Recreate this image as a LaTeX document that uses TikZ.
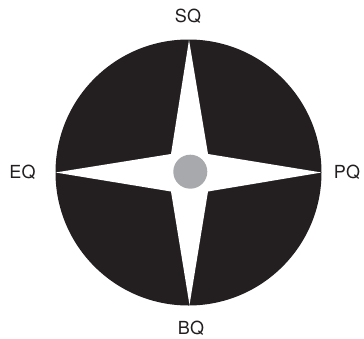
\documentclass[tikz,border=0pt]{standalone}
\usepackage{fontspec}
\setmainfont{TeX Gyre Heros}
\definecolor{dial}{HTML}{231F20}
\definecolor{hub}{HTML}{A7A9AC}
\begin{document}
\begin{tikzpicture}[x=0.75pt,y=-0.75pt,
  lbl/.style={font=\fontsize{13.5}{15}\selectfont, text=dial, inner sep=0pt}]
\useasboundingbox (0,0) rectangle (364,339);
\fill[dial] (188.5,172.5) circle[radius=133];
\fill[white] (189,40) -- (208,154) -- (321.5,172.5) -- (208,191.5) -- (189.5,305)
  -- (171,191.5) -- (55.5,172.5) -- (171,154) -- cycle;
\fill[hub] (190.3,171.7) circle[radius=17];
\node[lbl] (sq) at (188,16) {SQ};
\node[lbl] (eq) at (22.5,172.5) {EQ};
\node[lbl] (pq) at (347,172.5) {PQ};
\node[lbl] (bq) at (191,328) {BQ};
\end{tikzpicture}
\end{document}
